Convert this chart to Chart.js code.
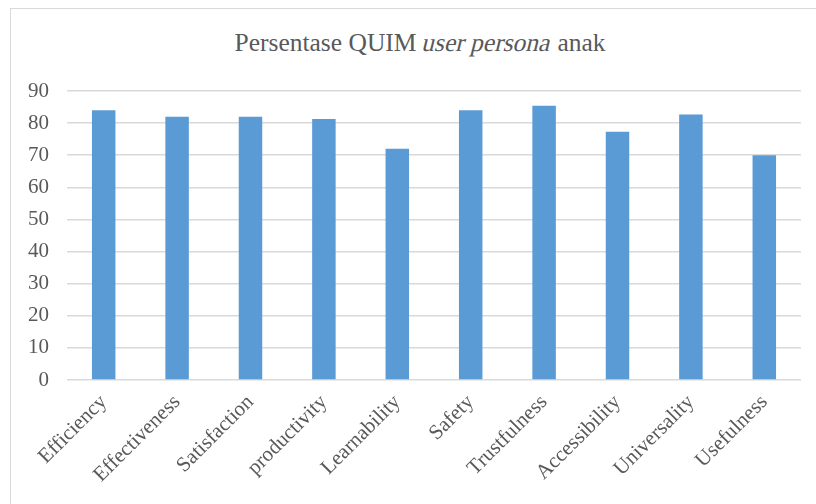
<!DOCTYPE html>
<html><head><meta charset="utf-8">
<script src="https://cdn.jsdelivr.net/npm/chart.js@4"></script>
<style>
html,body{margin:0;padding:0;background:#fff;}
#wrap{position:relative;width:816px;height:504px;overflow:hidden;}
#frame{position:absolute;left:10px;top:8px;width:830px;height:520px;border:1px solid #d9d9d9;box-sizing:border-box;}
#title{position:absolute;left:12px;width:816px;top:28px;text-align:center;font-family:"Liberation Serif",serif;font-size:25.5px;color:#595959;line-height:30px;white-space:nowrap;}
#title .it{display:inline-block;transform:skewX(-14deg);}
canvas{position:absolute;left:0;top:0;}
</style></head>
<body><div id="wrap"><div id="frame"></div>
<div id="title">Persentase QUIM <span class="it">user persona</span> anak</div>
<canvas id="c" width="816" height="504"></canvas></div>
<script>
const categories = ["Efficiency","Effectiveness","Satisfaction","productivity","Learnability","Safety","Trustfulness","Accessibility","Universality","Usefulness"];
const values = [84, 82, 82, 81.3, 72, 84, 85.4, 77.3, 82.7, 70];
const yTicks = [0,10,20,30,40,50,60,70,80,90];

const font = {family:"'Liberation Serif','Times New Roman',serif", size:21};
new Chart(document.getElementById('c'), {
  type:'bar',
  data:{labels:categories, datasets:[{data:values, backgroundColor:'#5B9BD5', borderWidth:0, categoryPercentage:1, barPercentage:0.32}]},
  options:{
    responsive:false, animation:false, devicePixelRatio:1,
    layout:{padding:{left:11, right:15, top:91, bottom:0}},
    plugins:{legend:{display:false}, title:{display:false}, tooltip:{enabled:false}},
    scales:{
      x:{grid:{display:false}, border:{display:false},
         ticks:{color:'#595959', font:font, maxRotation:45, minRotation:45, padding:2, autoSkip:false},
         afterFit:(s)=>{s.height=124;}},
      y:{min:0, max:90, grid:{color:'#d9d9d9', lineWidth:1.5, drawTicks:false}, border:{display:false},
         afterBuildTicks:(s)=>{s.ticks = yTicks.map(v=>({value:v}));},
         ticks:{color:'#595959', font:font, padding:18},
         afterFit:(s)=>{s.width=56;}}
    }
  }
});
</script></body></html>
